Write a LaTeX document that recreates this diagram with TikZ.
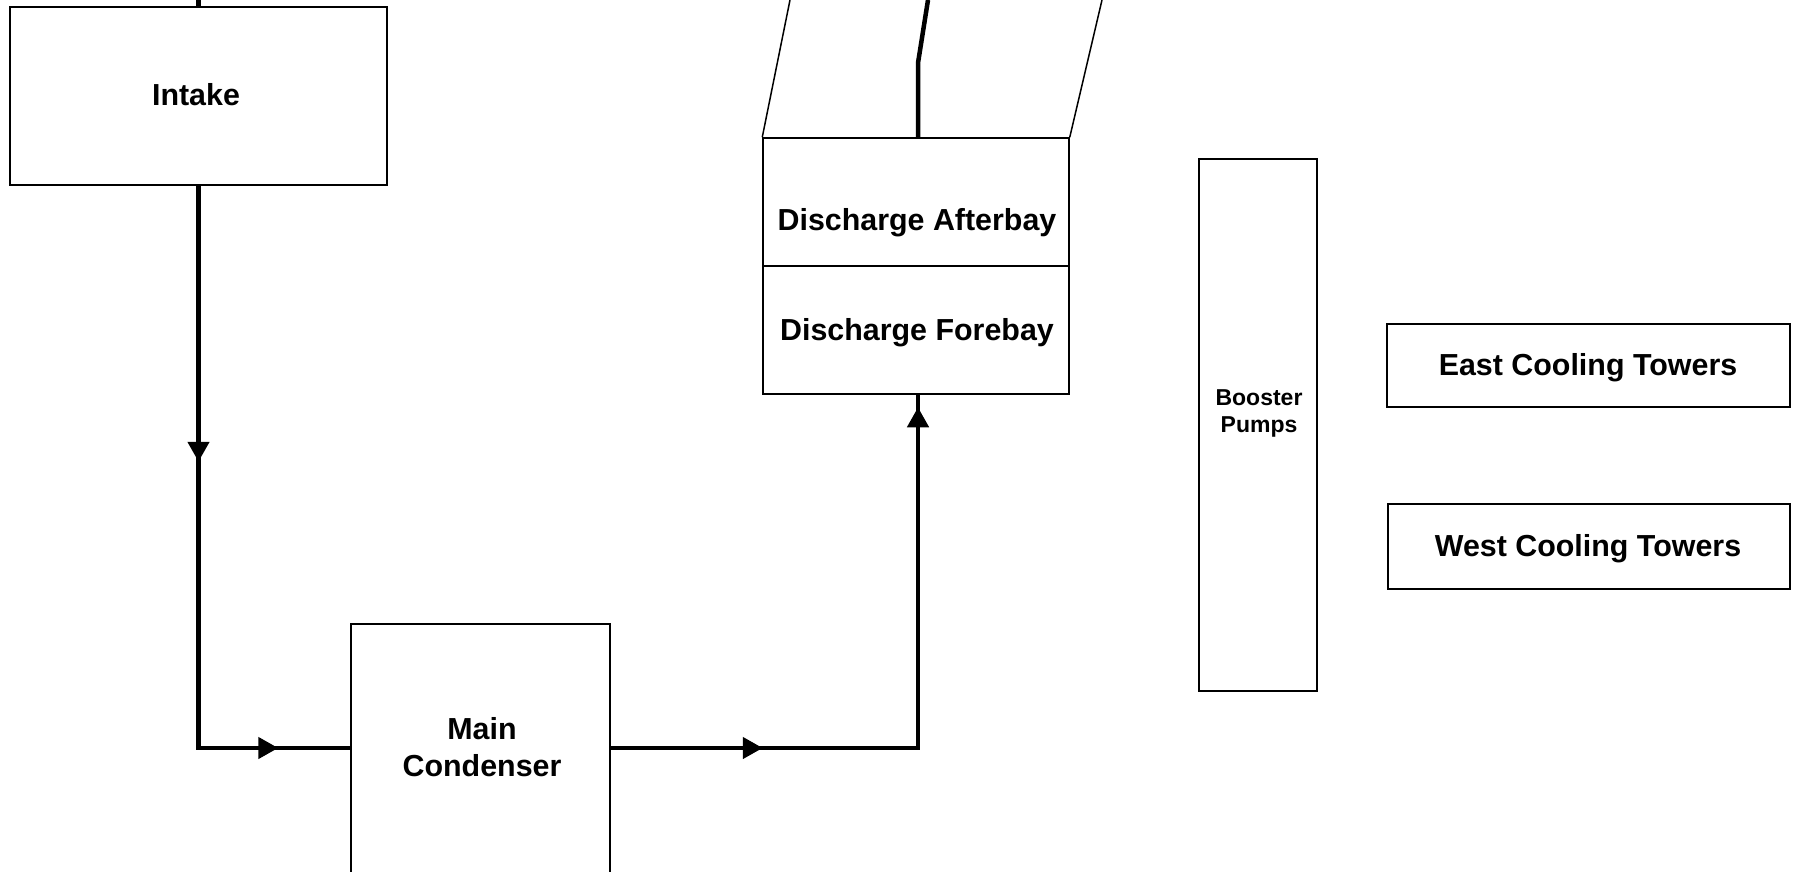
\documentclass[tikz,border=0pt]{standalone}
\usepackage{fontspec}
\setmainfont{Liberation Sans}
\usetikzlibrary{arrows.meta,decorations.markings}
\begin{document}
\begin{tikzpicture}[x=1pt,y=-1pt,
  box/.style={draw, line width=1.5pt, inner sep=0pt},
  lbl/.style={align=center, inner sep=0pt, font=\bfseries\fontsize{30.4}{37}\selectfont},
  smalllbl/.style={align=center, inner sep=0pt, font=\bfseries\fontsize{23}{27}\selectfont},
  flow/.style={line width=4.5pt, line join=miter},
  thinline/.style={line width=1.5pt},
  >={Triangle[length=20pt,width=21pt]},
]
\useasboundingbox (0,0) rectangle (1799,872);

% boxes
\node[box, minimum width=377pt, minimum height=178pt] (intake) at (198.5,96) {};
\node[box, minimum width=306pt, minimum height=128pt] (afterbay) at (916,202) {};
\node[box, minimum width=306pt, minimum height=128pt] (forebay) at (916,330) {};
\node[box, minimum width=259pt, minimum height=326pt] (cond) at (480.5,787) {};
\node[box, minimum width=118pt, minimum height=532pt] (booster) at (1258,425) {};
\node[box, minimum width=403pt, minimum height=83pt] (east) at (1588.5,365.5) {};
\node[box, minimum width=402pt, minimum height=85pt] (west) at (1589,546.5) {};

% labels
\node[lbl] (intaketext) at (196,95) {Intake};
\node[lbl] (aftertext) at (917,222.5) {Discharge Afterbay};
\node[lbl] (foretext) at (917,332.5) {Discharge Forebay};
\node[lbl] (condtext) at (482,747) {Main\\Condenser};
\node[smalllbl] (boostertext) at (1259,413) {Booster\\Pumps};
\node[lbl] (easttext) at (1588,367.5) {East Cooling Towers};
\node[lbl] (westtext) at (1588,548.5) {West Cooling Towers};

% coordinates
\coordinate (top1) at (198.5,0);
\coordinate (c1) at (198.5,748);
\coordinate (c2) at (918,748);
\coordinate (b1) at (918,63);
\coordinate (top2) at (928,0);
\coordinate (tl) at (790,0);
\coordinate (tr) at (1102,0);

% flows
\draw[flow] (intake.north) -- (top1);
\draw[flow, postaction=decorate, decoration={markings,
    mark=at position 276pt with {\arrow{>}},
    mark=at position 642pt with {\arrow{>}}}]
  (intake.south) -- (c1) -- (cond.west |- c1);
\draw[flow, postaction=decorate, decoration={markings,
    mark=at position 152pt with {\arrow{>}},
    mark=at position 648pt with {\arrow{>}}}]
  (cond.east |- c2) -- (c2) -- (c2 |- forebay.south);
\draw[flow] (b1 |- afterbay.north) -- (b1) -- (top2);
\draw[thinline] (afterbay.north west) -- (tl);
\draw[thinline] (afterbay.north east) -- (tr);
\end{tikzpicture}
\end{document}
